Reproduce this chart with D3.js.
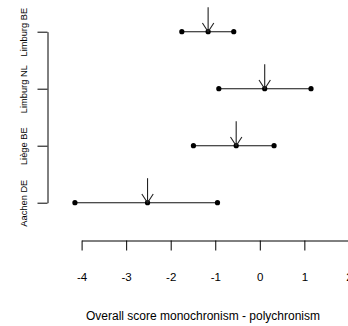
<!DOCTYPE html>
<html>
<head>
<meta charset="utf-8">
<script src="https://cdn.jsdelivr.net/npm/d3@7"></script>
<style>
  body { margin: 0; background: #fff; }
  svg { display: block; font-family: "Liberation Sans", Arial, sans-serif; }
</style>
</head>
<body>
<script>
const regions = ["Aachen DE", "Liège BE", "Limburg NL", "Limburg BE"]
const lowValues  = [-4.15, -1.49, -0.92, -1.75]
const midValues  = [-2.52, -0.53,  0.11, -1.16]
const highValues = [-0.95,  0.32,  1.15, -0.585]
const xTicks = [-4, -3, -2, -1, 0, 1, 2]

const w = 348
const h = 326

const xScale = d3.scaleLinear()
 .domain([-4, 2])
 .range([81.6, 348.9])

const yScale = d3.scalePoint()
 .domain(regions)
 .range([202.7, 31.7])

const svg = d3.select("body")
     .append("svg")
     .attr("width", w)
     .attr("height", h)

// x axis (plain hyphen minus like the original)
svg.append("g")
  .attr("transform", "translate(0,240.5)")
  .call(d3.axisBottom(xScale).tickValues(xTicks).tickFormat(d => String(d))
    .tickSize(10).tickSizeOuter(0).tickPadding(22))
  .call(g => g.selectAll("text").attr("font-size", "11.5px").attr("fill", "#000"))
  .call(g => g.selectAll("line, path").attr("stroke", "#000"))

// y axis, labels turned up
svg.append("g")
  .attr("transform", "translate(47.5,0)")
  .call(d3.axisLeft(yScale).tickSize(10).tickSizeOuter(0))
  .call(g => g.selectAll("line, path").attr("stroke", "#000"))
  .call(g => g.selectAll("text")
    .attr("transform", "rotate(-90)")
    .attr("x", 0)
    .attr("y", -20.5)
    .attr("dy", 0)
    .attr("text-anchor", "middle")
    .attr("font-size", "9.3px")
    .attr("fill", "#000"))

const rows = regions.map((r, i) => ({region: r, low: lowValues[i], mid: midValues[i], high: highValues[i]}))

// range lines
svg.selectAll(".range")
  .data(rows)
  .enter()
  .append("line")
  .attr("x1", d => xScale(d.low))
  .attr("x2", d => xScale(d.high))
  .attr("y1", d => yScale(d.region))
  .attr("y2", d => yScale(d.region))
  .attr("stroke", "#111")
  .attr("stroke-width", 1.1)

// dots at low, mid, high
svg.selectAll(".dot")
  .data(rows.flatMap(d => [d.low, d.mid, d.high].map(v => ({v: v, region: d.region}))))
  .enter()
  .append("circle")
  .attr("cx", d => xScale(d.v))
  .attr("cy", d => yScale(d.region))
  .attr("r", 2.6)
  .attr("fill", "#000")

// arrows pointing down at the mid value
const arrows = svg.selectAll(".arrow")
  .data(rows)
  .enter()
  .append("g")
  .attr("transform", d => `translate(${xScale(d.mid)},${yScale(d.region)})`)

arrows.append("line")
  .attr("x1", 0).attr("x2", 0)
  .attr("y1", -24.5).attr("y2", 0)
  .attr("stroke", "#222")
  .attr("stroke-width", 1.1)

arrows.append("path")
  .attr("d", "M-5.7,-8.7L0,0L5.7,-8.7")
  .attr("fill", "none")
  .attr("stroke", "#222")
  .attr("stroke-width", 1.1)

// axis title
svg.append("text")
  .attr("x", 203)
  .attr("y", 320)
  .attr("text-anchor", "middle")
  .attr("font-size", "12px")
  .attr("fill", "#000")
  .text("Overall score monochronism - polychronism")
</script>
</body>
</html>
